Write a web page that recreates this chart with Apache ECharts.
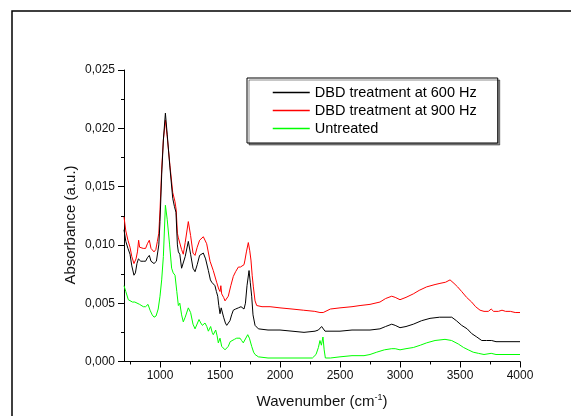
<!DOCTYPE html>
<html>
<head>
<meta charset="utf-8">
<script src="https://cdn.jsdelivr.net/npm/echarts@6/dist/echarts.min.js"></script>
<style>
html,body{margin:0;padding:0;background:#fff;}
#chart{width:571px;height:416px;}
</style>
</head>
<body>
<div id="chart"></div>
<script>
// ---- Data ----
const seriesNames = ['DBD treatment at 600 Hz', 'DBD treatment at 900 Hz', 'Untreated'];

const wn600 = [700,715,733,750,765,783,795,808,820,840,860,880,895,911,925,950,970,990,1000,1014,1028,1045,1060,1083,1106,1120,1133,1145,1153,1165,1180,1194,1210,1236,1255,1275,1292,1310,1330,1361,1380,1403,1420,1431,1445,1458,1470,1481,1490,1500,1510,1519,1530,1545,1556,1570,1583,1597,1611,1630,1653,1675,1689,1700,1712,1725,1742,1752,1764,1775,1792,1820,1900,2000,2100,2200,2292,2320,2347,2360,2375,2400,2500,2600,2750,2833,2880,2931,2960,3000,3050,3111,3180,3250,3330,3431,3470,3514,3560,3597,3640,3681,3720,3764,3800,3850,3900,3950,4000];
const abs600 = [0.0113,0.0103,0.0097,0.0092,0.0082,0.0074,0.0076,0.0084,0.0088,0.0086,0.0086,0.0086,0.0089,0.0091,0.0086,0.0084,0.0086,0.0100,0.0120,0.0160,0.0190,0.0213,0.0195,0.0166,0.0140,0.0133,0.0128,0.0100,0.0094,0.0092,0.0080,0.0079,0.0090,0.0103,0.0092,0.0080,0.0077,0.0083,0.0091,0.0093,0.0088,0.0078,0.0070,0.0068,0.0067,0.0065,0.0060,0.0056,0.0048,0.0041,0.0046,0.0045,0.0038,0.0033,0.0031,0.0032,0.0035,0.0040,0.0044,0.0045,0.0046,0.0047,0.0048,0.0045,0.0050,0.0065,0.0078,0.0068,0.0056,0.0040,0.0031,0.0028,0.0027,0.0027,0.0026,0.0025,0.0026,0.0027,0.0030,0.0029,0.0026,0.0026,0.0026,0.0027,0.0027,0.0028,0.0030,0.0032,0.0031,0.0029,0.0030,0.0032,0.0035,0.0037,0.0038,0.0038,0.0035,0.0031,0.0028,0.0024,0.0021,0.0018,0.0018,0.0018,0.0017,0.0017,0.0017,0.0017,0.0017];

const wn900 = [700,715,733,750,765,783,800,812,822,830,845,860,880,895,911,925,950,965,978,990,1000,1014,1028,1045,1060,1083,1106,1125,1135,1145,1153,1165,1180,1194,1210,1236,1255,1275,1292,1310,1330,1361,1389,1417,1444,1472,1490,1500,1507,1514,1530,1542,1556,1569,1590,1611,1630,1653,1670,1686,1700,1708,1720,1736,1748,1758,1768,1778,1792,1806,1850,1917,2000,2100,2194,2290,2333,2347,2360,2375,2420,2500,2600,2667,2750,2833,2880,2931,2960,3000,3050,3111,3160,3222,3292,3333,3380,3417,3450,3480,3514,3555,3597,3630,3667,3700,3736,3760,3780,3820,3850,3880,3920,3960,4000];
const abs900 = [0.0124,0.0112,0.0104,0.0098,0.0090,0.0084,0.0088,0.0094,0.0104,0.0098,0.0097,0.0097,0.0097,0.0101,0.0104,0.0097,0.0094,0.0096,0.0103,0.0110,0.0130,0.0165,0.0190,0.0207,0.0193,0.0168,0.0145,0.0137,0.0130,0.0110,0.0106,0.0107,0.0096,0.0092,0.0102,0.0120,0.0108,0.0093,0.0091,0.0098,0.0104,0.0107,0.0101,0.0086,0.0078,0.0068,0.0062,0.0060,0.0065,0.0058,0.0055,0.0052,0.0053,0.0056,0.0065,0.0073,0.0077,0.0081,0.0081,0.0080,0.0083,0.0087,0.0094,0.0102,0.0095,0.0087,0.0074,0.0064,0.0052,0.0048,0.0047,0.0047,0.0046,0.0045,0.0044,0.0043,0.0042,0.0041,0.0042,0.0043,0.0045,0.0046,0.0047,0.0048,0.0049,0.0051,0.0054,0.0056,0.0055,0.0053,0.0055,0.0058,0.0061,0.0064,0.0066,0.0067,0.0068,0.0070,0.0067,0.0064,0.0060,0.0055,0.0051,0.0047,0.0044,0.0043,0.0043,0.0045,0.0043,0.0043,0.0044,0.0043,0.0043,0.0042,0.0042];

const wnUnt = [700,715,736,750,770,790,806,830,861,880,900,917,935,950,967,985,1000,1014,1028,1045,1060,1080,1097,1110,1125,1140,1153,1165,1180,1194,1210,1236,1255,1275,1292,1306,1325,1340,1353,1375,1390,1403,1422,1435,1444,1464,1476,1486,1500,1514,1528,1542,1555,1569,1585,1597,1620,1639,1653,1667,1680,1694,1710,1731,1745,1764,1780,1792,1820,1900,2000,2100,2200,2270,2300,2320,2333,2345,2358,2368,2378,2420,2500,2600,2700,2750,2806,2870,2931,2960,3000,3050,3111,3170,3222,3292,3375,3430,3486,3530,3569,3610,3653,3700,3760,3800,3900,4000];
const absUnt = [0.0065,0.0060,0.0053,0.0052,0.0051,0.0051,0.0050,0.0049,0.0047,0.0047,0.0049,0.0044,0.0040,0.0038,0.0039,0.0045,0.0056,0.0070,0.0090,0.0134,0.0122,0.0100,0.0080,0.0076,0.0074,0.0060,0.0048,0.0050,0.0040,0.0034,0.0038,0.0046,0.0042,0.0032,0.0028,0.0027,0.0036,0.0033,0.0031,0.0033,0.0030,0.0026,0.0030,0.0025,0.0023,0.0027,0.0022,0.0016,0.0020,0.0013,0.0012,0.0010,0.0011,0.0013,0.0017,0.0018,0.0019,0.0020,0.0021,0.0020,0.0018,0.0016,0.0017,0.0023,0.0020,0.0013,0.0008,0.0006,0.0004,0.0003,0.0003,0.0003,0.0003,0.0003,0.0006,0.0012,0.0018,0.0014,0.0021,0.0010,0.0003,0.0003,0.0004,0.0005,0.0005,0.0006,0.0008,0.0010,0.0011,0.0011,0.0010,0.0011,0.0012,0.0014,0.0016,0.0018,0.0019,0.0018,0.0015,0.0012,0.0010,0.0008,0.0007,0.0006,0.0007,0.0006,0.0006,0.0006];

const xMajorTicks = [1000,1500,2000,2500,3000,3500,4000];
const xMinorTicks = [750,1250,1750,2250,2750,3250,3750];
const yMin = 0, yMax = 0.025, yStep = 0.005;

// ---- Chart ----
const zip = (xs, ys) => xs.map((x, i) => [x, ys[i]]);
const FONT = 'Liberation Sans, Arial, sans-serif';
const chart = echarts.init(document.getElementById('chart'), null, {renderer: 'canvas'});
const gridPos = {left: 124, right: 51, top: 70, bottom: 54.5};

chart.setOption({
  animation: false,
  backgroundColor: '#fff',
  grid: [Object.assign({}, gridPos), Object.assign({}, gridPos)],
  xAxis: [{
    type: 'value', gridIndex: 0, min: 700, max: 4000,
    axisLine: {show: true, lineStyle: {color: '#000', width: 1}},
    axisTick: {show: true, length: 6, customValues: xMajorTicks, lineStyle: {color: '#000'}},
    axisLabel: {customValues: xMajorTicks, margin: 8, color: '#111', fontSize: 12, fontFamily: FONT,
      formatter: v => String(v)},
    splitLine: {show: false}
  }, {
    type: 'value', gridIndex: 1, min: 700, max: 4000,
    axisLine: {show: false},
    axisTick: {show: true, length: 3, customValues: xMinorTicks, lineStyle: {color: '#000'}},
    axisLabel: {show: false},
    splitLine: {show: false}
  }],
  yAxis: [{
    type: 'value', gridIndex: 0, min: yMin, max: yMax, interval: yStep,
    axisLine: {show: true, lineStyle: {color: '#000', width: 1}},
    axisTick: {show: true, length: 6, lineStyle: {color: '#000'}},
    minorTick: {show: true, splitNumber: 2, length: 3, lineStyle: {color: '#000'}},
    axisLabel: {margin: 9, color: '#111', fontSize: 12, fontFamily: FONT,
      formatter: v => v.toFixed(3).replace('.', ',')},
    splitLine: {show: false}
  }, {
    type: 'value', gridIndex: 1, min: yMin, max: yMax, show: false
  }],
  legend: {
    orient: 'vertical', left: 247, top: 78,
    padding: [7, 21, 7, 25], itemGap: 3, itemWidth: 37, itemHeight: 14,
    backgroundColor: '#fff', borderColor: '#000', borderWidth: 1,
    shadowColor: 'rgba(0,0,0,0.45)', shadowBlur: 0, shadowOffsetX: 2, shadowOffsetY: 2,
    itemStyle: {opacity: 0},
    lineStyle: {width: 1.5},
    textStyle: {fontSize: 14.5, color: '#000', fontFamily: FONT},
    data: seriesNames
  },
  series: [
    {name: seriesNames[0], type: 'line', xAxisIndex: 0, yAxisIndex: 0, data: zip(wn600, abs600), symbol: 'none', lineStyle: {color: '#000', width: 1}, itemStyle: {color: '#000'}, z: 4},
    {name: seriesNames[1], type: 'line', xAxisIndex: 0, yAxisIndex: 0, data: zip(wn900, abs900), symbol: 'none', lineStyle: {color: '#ff0000', width: 1}, itemStyle: {color: '#ff0000'}, z: 3},
    {name: seriesNames[2], type: 'line', xAxisIndex: 0, yAxisIndex: 0, data: zip(wnUnt, absUnt), symbol: 'none', lineStyle: {color: '#00ff00', width: 1}, itemStyle: {color: '#00ff00'}, z: 2}
  ],
  graphic: [
    {type: 'rect', silent: true, shape: {x: 12, y: 11, width: 700, height: 500},
     style: {fill: 'none', stroke: '#000', lineWidth: 1.5}},
    {type: 'text', x: 71, y: 225, rotation: Math.PI / 2,
     style: {text: 'Absorbance (a.u.)', fontSize: 15, fontFamily: FONT, fill: '#111', align: 'center', verticalAlign: 'middle'}},
    {type: 'text', x: 322, y: 402,
     style: {text: 'Wavenumber (cm{sup|-1})', fontSize: 15, fontFamily: FONT, fill: '#111', align: 'center', verticalAlign: 'middle',
       rich: {sup: {fontSize: 9, fontFamily: FONT, fill: '#111', padding: [0, 0, 9, 0]}}}}
  ]
});
</script>
</body>
</html>
